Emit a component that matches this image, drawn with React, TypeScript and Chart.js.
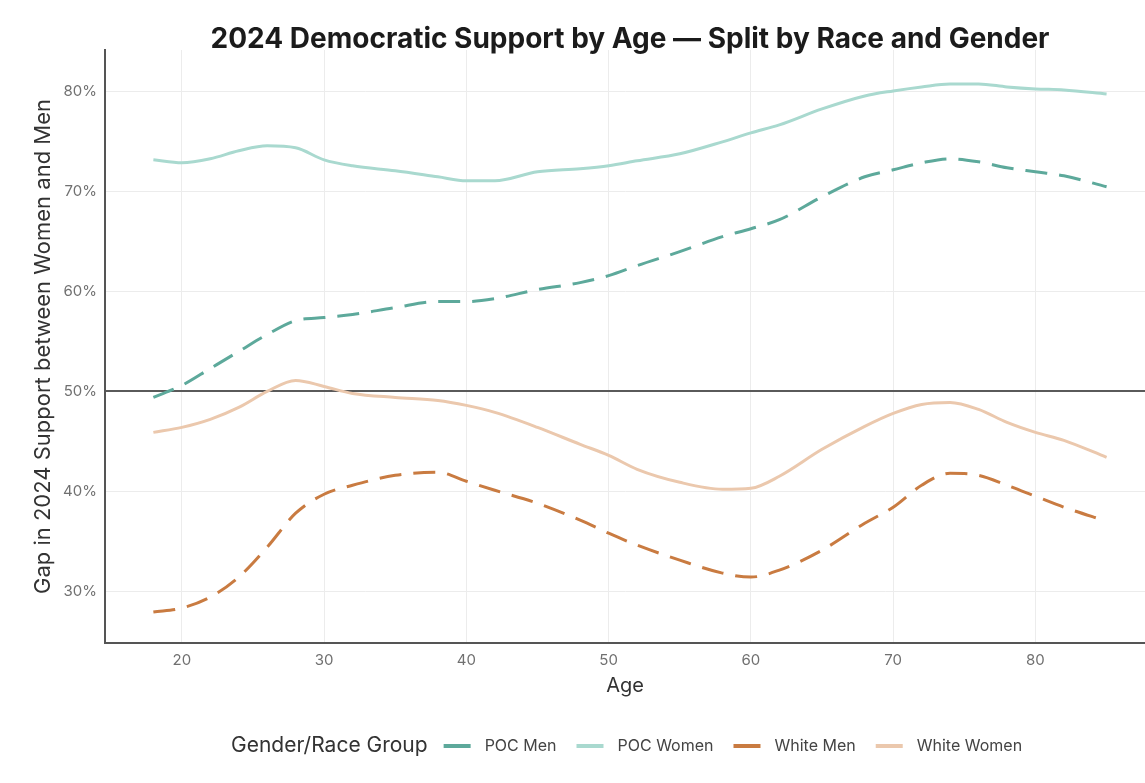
import React, { useEffect, useRef } from "react";
import { Chart, registerables } from "chart.js";

Chart.register(...registerables);

const TITLE = "2024 Democratic Support by Age — Split by Race and Gender";
const X_TITLE = "Age";
const Y_TITLE = "Gap in 2024 Support between Women and Men";
const LEGEND_TITLE = "Gender/Race Group";

const ages = [18, 20, 22, 24, 26, 28, 30, 32, 35, 38, 40, 42, 45, 48, 50, 52, 55, 58, 60, 62, 65, 68, 70, 72, 74, 76, 78, 80, 82, 85];

const pocMen = [49.4, 50.6, 52.3, 54.0, 55.7, 57.1, 57.4, 57.7, 58.4, 59.0, 59.0, 59.3, 60.2, 60.9, 61.6, 62.6, 64.0, 65.5, 66.3, 67.2, 69.5, 71.5, 72.2, 72.9, 73.3, 73.0, 72.4, 72.0, 71.6, 70.5];
const pocWomen = [73.2, 72.9, 73.3, 74.1, 74.6, 74.4, 73.2, 72.6, 72.1, 71.5, 71.1, 71.1, 72.0, 72.3, 72.6, 73.1, 73.8, 75.0, 75.9, 76.7, 78.3, 79.6, 80.1, 80.5, 80.8, 80.8, 80.5, 80.3, 80.2, 79.8];
const whiteMen = [27.9, 28.3, 29.4, 31.4, 34.4, 37.8, 39.7, 40.6, 41.6, 41.9, 41.0, 40.1, 38.8, 37.1, 35.8, 34.6, 33.1, 31.8, 31.4, 32.1, 34.1, 36.8, 38.4, 40.6, 41.8, 41.6, 40.6, 39.5, 38.4, 37.0];
const whiteWomen = [45.9, 46.4, 47.2, 48.4, 50.0, 51.1, 50.5, 49.8, 49.4, 49.1, 48.6, 47.9, 46.4, 44.7, 43.6, 42.2, 40.9, 40.2, 40.3, 41.5, 44.2, 46.5, 47.8, 48.7, 48.9, 48.2, 46.9, 45.9, 45.1, 43.4];

const seriesNames = ["POC Men", "POC Women", "White Men", "White Women"];
const seriesValues = [pocMen, pocWomen, whiteMen, whiteWomen];
const seriesColors = ["#5da99b", "#a9d9cf", "#c97b41", "#ebc8ad"];
const seriesDashed = [true, false, true, false];

const xTicks = [20, 30, 40, 50, 60, 70, 80];
const yTicks = [30, 40, 50, 60, 70, 80];
const referenceLine = 50;

const FONT = "Inter, 'DejaVu Sans', sans-serif";

const titlePlugin = {
  id: "customTitle",
  afterDraw(chart: any) {
    const { ctx, chartArea } = chart;
    ctx.save();
    ctx.font = `bold 28px ${FONT}`;
    ctx.fillStyle = "#1b1b1b";
    ctx.textAlign = "center";
    ctx.textBaseline = "middle";
    ctx.fillText(TITLE, (chartArea.left + chartArea.right) / 2 + 5, 40);
    ctx.restore();
  },
};

const legendPlugin = {
  id: "customLegend",
  afterDraw(chart: any) {
    const { ctx } = chart;
    const y = 746;
    let x = 231;
    ctx.save();
    ctx.textBaseline = "middle";
    ctx.textAlign = "left";
    ctx.font = `21px ${FONT}`;
    ctx.fillStyle = "#333333";
    ctx.fillText(LEGEND_TITLE, x, y);
    x += ctx.measureText(LEGEND_TITLE).width + 16;
    ctx.font = `16px ${FONT}`;
    seriesNames.forEach((name, i) => {
      ctx.strokeStyle = seriesColors[i];
      ctx.lineWidth = 4;
      ctx.setLineDash([]);
      ctx.beginPath();
      ctx.moveTo(x, y);
      ctx.lineTo(x + 27, y);
      ctx.stroke();
      x += 41;
      ctx.fillStyle = "#444444";
      ctx.fillText(name, x, y);
      x += ctx.measureText(name).width + 20;
    });
    ctx.restore();
  },
};

const bgPlugin = {
  id: "bg",
  beforeDraw(chart: any) {
    const { ctx, width, height } = chart;
    ctx.save();
    ctx.fillStyle = "#ffffff";
    ctx.fillRect(0, 0, width, height);
    ctx.restore();
  },
};

export default function App() {
  const ref = useRef<HTMLCanvasElement | null>(null);

  useEffect(() => {
    if (!ref.current) return;
    const datasets = seriesNames.map((name, i) => ({
      label: name,
      data: ages.map((a, j) => ({ x: a, y: seriesValues[i][j] })),
      borderColor: seriesColors[i],
      backgroundColor: seriesColors[i],
      borderWidth: 3,
      borderDash: seriesDashed[i] ? [22, 12] : [],
      pointRadius: 0,
      fill: false,
      tension: 0.4,
      cubicInterpolationMode: "monotone" as const,
    }));

    const chart = new Chart(ref.current, {
      type: "line",
      data: { datasets },
      plugins: [bgPlugin, titlePlugin, legendPlugin],
      options: {
        responsive: false,
        animation: false,
        layout: { padding: { top: 50, left: 30, right: 0, bottom: 85 } },
        plugins: {
          legend: { display: false },
          title: { display: false },
          tooltip: { enabled: false },
        },
        scales: {
          x: {
            type: "linear",
            min: 14.6,
            max: 87.7,
            afterBuildTicks: (s: any) => {
              s.ticks = xTicks.map((v) => ({ value: v }));
            },
            afterFit: (s: any) => {
              s.height = 55;
            },
            ticks: {
              color: "#707070",
              font: { family: FONT, size: 15 },
              padding: 8,
              maxRotation: 0,
            },
            grid: { color: "#ececec", lineWidth: 1, drawTicks: false },
            border: { display: true, color: "#555555", width: 2 },
            title: {
              display: true,
              text: X_TITLE,
              color: "#333333",
              font: { family: FONT, size: 20 },
              padding: { top: 0, bottom: 0 },
            },
          },
          y: {
            type: "linear",
            min: 24.8,
            max: 84.2,
            afterBuildTicks: (s: any) => {
              s.ticks = yTicks.map((v) => ({ value: v }));
            },
            afterFit: (s: any) => {
              s.width = 75;
            },
            ticks: {
              color: "#707070",
              font: { family: FONT, size: 15 },
              padding: 8,
              callback: (v: any) => `${v}%`,
            },
            grid: {
              color: (c: any) => (c.tick && c.tick.value === referenceLine ? "#5a5a5a" : "#ececec"),
              lineWidth: (c: any) => (c.tick && c.tick.value === referenceLine ? 2 : 1),
              drawTicks: false,
            },
            border: { display: true, color: "#555555", width: 2 },
            title: {
              display: true,
              text: Y_TITLE,
              color: "#333333",
              font: { family: FONT, size: 22 },
              padding: { top: 0, bottom: 0 },
            },
          },
        },
      },
    });
    return () => chart.destroy();
  }, []);

  return (
    <div style={{ position: "absolute", left: 0, top: 0, width: 1145, height: 783, background: "#ffffff" }}>
      <canvas ref={ref} width={1145} height={783} style={{ display: "block" }} />
    </div>
  );
}
